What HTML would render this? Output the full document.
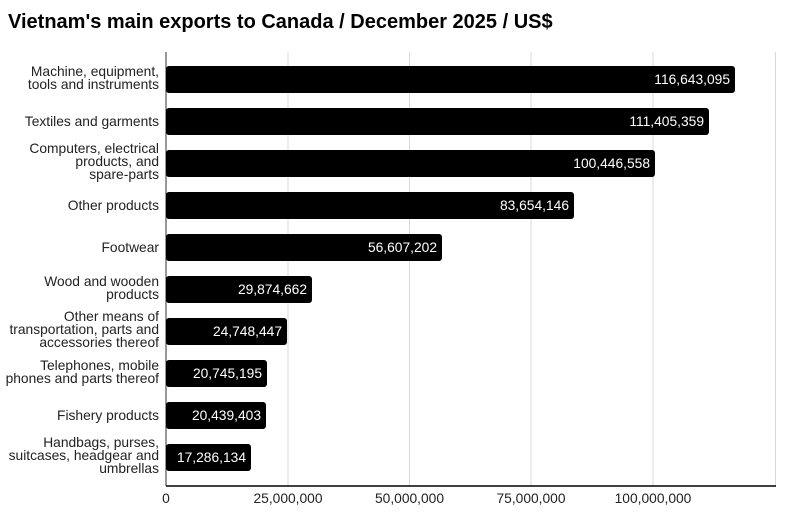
<!DOCTYPE html>
<html><head><style>body{margin:0;background:#fff}</style></head><body>
<svg width="794" height="510" xmlns="http://www.w3.org/2000/svg" font-family="Liberation Sans, Arial, sans-serif">
<rect width="794" height="510" fill="#fff"/>
<text x="8" y="28" font-size="20" font-weight="bold" fill="#000">Vietnam's main exports to Canada / December 2025 / US$</text>
<g stroke="#d9d9d9" stroke-width="1">
<line x1="288" y1="52" x2="288" y2="486"/><line x1="409.5" y1="52" x2="409.5" y2="486"/><line x1="531" y1="52" x2="531" y2="486"/><line x1="653" y1="52" x2="653" y2="486"/><line x1="775.5" y1="52" x2="775.5" y2="486"/>
</g>
<line x1="166" y1="52" x2="166" y2="486" stroke="#333" stroke-width="1"/>
<line x1="166" y1="486" x2="776" y2="486" stroke="#000" stroke-width="1.5"/>
<g font-size="13.8" fill="#222" text-anchor="middle">
<text x="166" y="503">0</text><text x="288" y="503">25,000,000</text><text x="409.5" y="503">50,000,000</text><text x="531" y="503">75,000,000</text><text x="653" y="503">100,000,000</text>
</g>
<g fill="#000">
<rect x="166" y="66" width="569" height="27" rx="3"/>
<rect x="166" y="108" width="543" height="27" rx="3"/>
<rect x="166" y="150" width="489" height="27" rx="3"/>
<rect x="166" y="192" width="408" height="27" rx="3"/>
<rect x="166" y="234" width="276" height="27" rx="3"/>
<rect x="166" y="276" width="146" height="27" rx="3"/>
<rect x="166" y="318" width="121" height="27" rx="3"/>
<rect x="166" y="360" width="101" height="27" rx="3"/>
<rect x="166" y="402" width="100" height="27" rx="3"/>
<rect x="166" y="444" width="85" height="27" rx="3"/>
</g>
<g font-size="13.8" fill="#fff" text-anchor="end">
<text x="730" y="84">116,643,095</text>
<text x="704" y="126">111,405,359</text>
<text x="650" y="168">100,446,558</text>
<text x="569" y="210">83,654,146</text>
<text x="437" y="252">56,607,202</text>
<text x="307" y="294">29,874,662</text>
<text x="282" y="336">24,748,447</text>
<text x="262" y="378">20,745,195</text>
<text x="261" y="420">20,439,403</text>
<text x="246" y="462">17,286,134</text>
</g>
<g font-size="13.8" fill="#222" text-anchor="end">
<text x="159" y="76">Machine, equipment,</text><text x="159" y="89">tools and instruments</text>
<text x="159" y="126">Textiles and garments</text>
<text x="159" y="153">Computers, electrical</text><text x="159" y="166">products, and</text><text x="159" y="179">spare-parts</text>
<text x="159" y="210">Other products</text>
<text x="159" y="252">Footwear</text>
<text x="159" y="286">Wood and wooden</text><text x="159" y="299">products</text>
<text x="159" y="321">Other means of</text><text x="159" y="334">transportation, parts and</text><text x="159" y="347">accessories thereof</text>
<text x="159" y="370">Telephones, mobile</text><text x="159" y="383">phones and parts thereof</text>
<text x="159" y="420">Fishery products</text>
<text x="159" y="447">Handbags, purses,</text><text x="159" y="460">suitcases, headgear and</text><text x="159" y="473">umbrellas</text>
</g>
</svg>
</body></html>
